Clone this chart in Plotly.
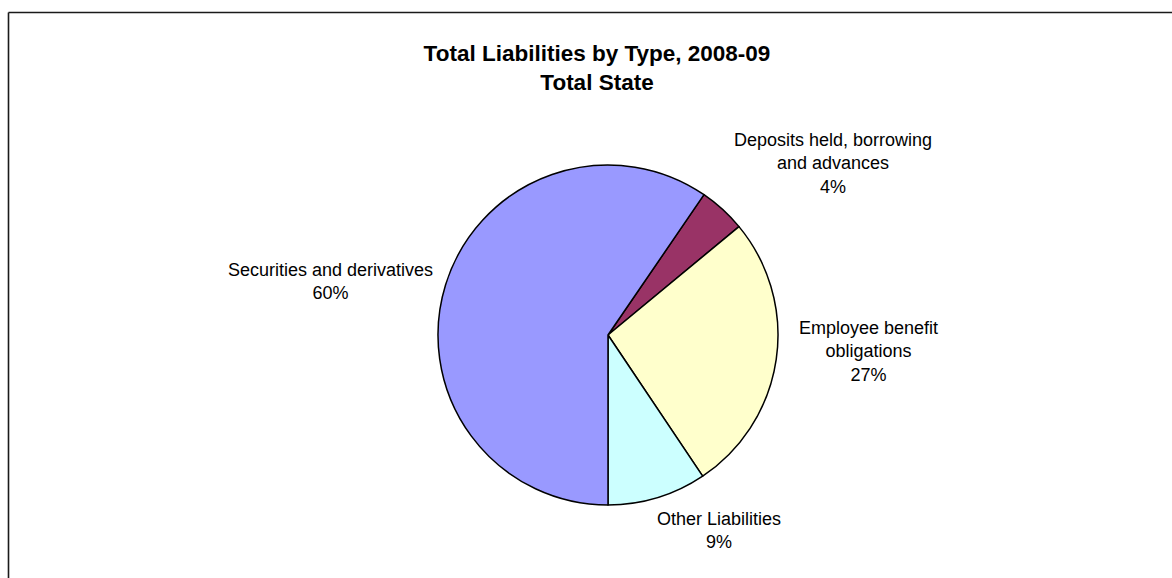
import plotly.graph_objects as go

# Data
categories = ["Deposits held, borrowing<br>and advances",
              "Employee benefit<br>obligations",
              "Other Liabilities",
              "Securities and derivatives"]
shares = [4.45, 26.6, 9.4, 59.55]
colors = ["#993366", "#FFFFCC", "#CCFFFF", "#9999FF"]

W, H = 1172, 578
FONT = "Liberation Sans, Arial, sans-serif"

# pie geometry (pixels)
cx, cy, r = 608, 335, 170
dom_x = [(cx - r) / W, (cx + r) / W]
dom_y = [(H - cy - r) / H, (H - cy + r) / H]

total = sum(shares)
start_angle = 180 - sum(shares[:3]) / total * 360

fig = go.Figure(go.Pie(
    labels=categories,
    values=shares,
    sort=False,
    direction="clockwise",
    rotation=start_angle,
    marker=dict(colors=colors, line=dict(color="#000000", width=1.5)),
    textinfo="none",
    hoverinfo="label+percent",
    domain=dict(x=dom_x, y=dom_y),
    showlegend=False,
))

# label placements (pixel centers)
label_pos = [(833, 163), (868, 351), (719, 530), (330, 281)]
annotations = []
for cat, v, (px, py) in zip(categories, shares, label_pos):
    pct = int(round(v / total * 100))
    annotations.append(dict(
        text=f"{cat}<br>{pct}%",
        x=px / W, y=1 - py / H, xref="paper", yref="paper",
        xanchor="center", yanchor="middle", showarrow=False,
        align="center",
        font=dict(family=FONT, size=18, color="#000000"),
    ))

bx, by = 8.5, 12.5
shapes = [
    dict(type="line", xref="paper", yref="paper",
         x0=bx / W, x1=1.0, y0=1 - by / H, y1=1 - by / H,
         line=dict(color="#1a1a1a", width=1.6)),
    dict(type="line", xref="paper", yref="paper",
         x0=bx / W, x1=bx / W, y0=1 - by / H, y1=0,
         line=dict(color="#1a1a1a", width=1.6)),
]

fig.update_layout(
    width=W, height=H,
    margin=dict(l=0, r=0, t=0, b=0),
    paper_bgcolor="#FFFFFF",
    plot_bgcolor="#FFFFFF",
    title=dict(
        text="<b>Total Liabilities by Type, 2008-09<br>Total State</b>",
        x=597 / W, xanchor="center",
        y=1 - 61 / H, yanchor="middle", yref="container",
        font=dict(family=FONT, size=22.5, color="#000000"),
    ),
    annotations=annotations,
    shapes=shapes,
)

fig.write_html("out.html")
